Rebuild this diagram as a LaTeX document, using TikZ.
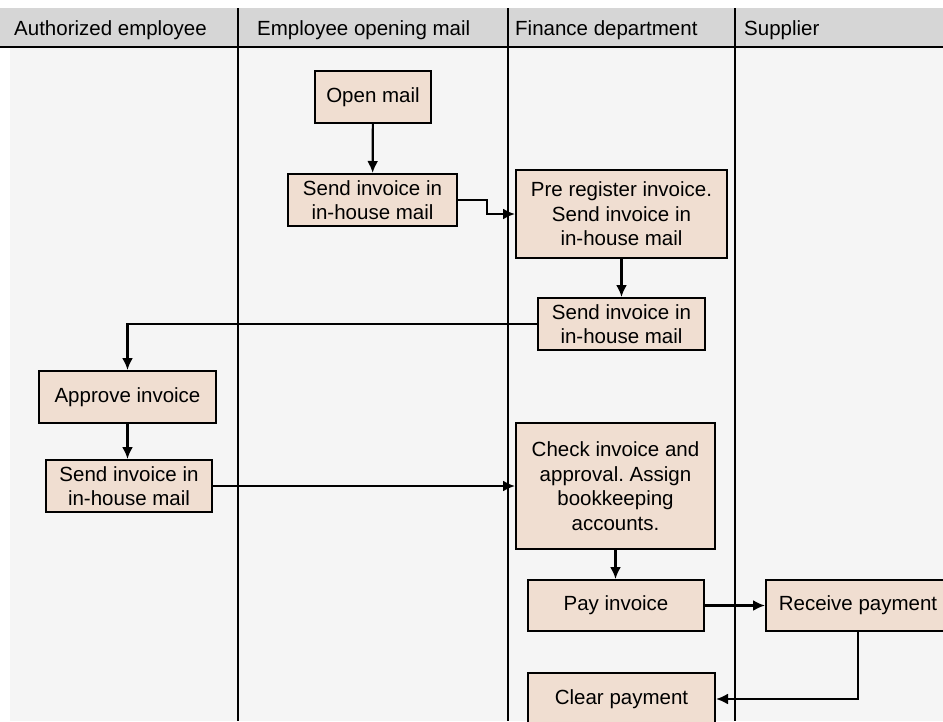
\documentclass[tikz,border=0pt]{standalone}
\usepackage{fontspec}
\setmainfont{Liberation Sans}
\usetikzlibrary{arrows.meta}
\frenchspacing

\definecolor{taskfill}{RGB}{240,222,209}
\definecolor{lanebg}{RGB}{245,245,245}
\definecolor{headbg}{RGB}{214,214,214}

\begin{document}
\begin{tikzpicture}[x=1pt, y=-1pt,
    task/.style={draw, line width=2pt, fill=taskfill, align=center, inner sep=0pt,
      font=\fontsize{20.5}{24.5}\selectfont},
    lanetitle/.style={anchor=west, inner sep=0pt, font=\fontsize{20.5}{24}\selectfont},
    flow/.style={-{Latex[length=12pt,width=11pt]}, line width=2.2pt}]
  \useasboundingbox (0,0) rectangle (943,721);
  \fill [white] (0,0) rectangle (943,721);
  \fill [lanebg] (10,47) rectangle (943,721);
  \fill [headbg] (0,8) rectangle (943,47);
  \draw [line width=2.2pt] (0,47) -- (943,47);
  \foreach \x in {238,508,735}
    \draw [line width=1.4pt] (\x,8) -- (\x,721);
  % lanes
  \node [lanetitle] (hAuth) at (14,30) {Authorized employee};
  \node [lanetitle] (hMail) at (257,30) {Employee opening mail};
  \node [lanetitle] (hFin) at (515,30) {Finance department};
  \node [lanetitle] (hSup) at (744,30) {Supplier};
  % tasks
  \node [task, minimum width=116, minimum height=52] (openMail) at (373,97) {Open mail};
  \node [task, minimum width=169, minimum height=52] (sendMail) at (372.5,200) {Send invoice in\\in-house mail};
  \node [task, minimum width=211, minimum height=88] (preReg) at (621.5,214) {Pre register invoice.\\Send invoice in\\in-house mail};
  \node [task, minimum width=167, minimum height=52] (sendFin) at (621.5,324) {Send invoice in\\in-house mail};
  \node [task, minimum width=177, minimum height=52] (approve) at (127.5,397) {Approve invoice};
  \node [task, minimum width=166, minimum height=52] (sendAuth) at (129,486) {Send invoice in\\in-house mail};
  \node [task, minimum width=199, minimum height=126] (check) at (615.5,486) {Check invoice and\\approval. Assign\\bookkeeping\\accounts.};
  \node [task, minimum width=176, minimum height=51] (pay) at (616,605.5) {Pay invoice};
  \node [task, minimum width=184, minimum height=51] (receive) at (858,605.5) {Receive payment};
  \node [task, minimum width=187, minimum height=52] (clear) at (621.5,699) {Clear payment};
  % flows
  \draw [flow] (openMail) -- (sendMail);
  \draw [flow] (sendMail.east) -- ++(29,0) |- (preReg.west);
  \draw [flow] (preReg) -- (sendFin);
  \draw [flow] (sendFin.west) -| (approve.north);
  \draw [flow] (approve.south) -- (approve.south |- sendAuth.north);
  \draw [flow] (sendAuth.east) -- (sendAuth.east -| check.west);
  \draw [flow] (check.south) -- (check.south |- pay.north);
  \draw [flow] (pay) -- (receive);
  \draw [flow] (receive.south) |- (clear.east);
\end{tikzpicture}
\end{document}
